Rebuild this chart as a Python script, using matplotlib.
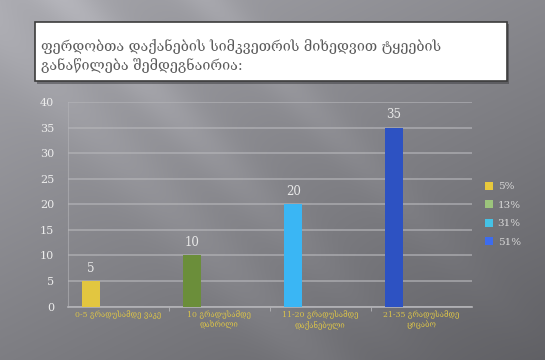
import matplotlib
matplotlib.use('Agg')
import matplotlib.pyplot as plt
from matplotlib.patches import Rectangle, Patch
import numpy as np

# ტყეების განაწილება ფერდობთა დაქანების მიხედვით
categories = ['0-5 გრადუსამდე ვაკე',
              '10 გრადუსამდე\nდახრილი',
              '11-20 გრადუსამდე\nდაქანებული',
              '21-35 გრადუსამდე\nციცაბო']
values = [5, 10, 20, 35]
shares = ['5%', '13%', '31%', '51%']
bar_colors = ['#e2c640', '#6b8e3a', '#3ab6f4', '#2d52c2']
legend_colors = ['#e8c93c', '#9cc47c', '#45c2e6', '#3d6cee']
title = 'ფერდობთა დაქანების სიმკვეთრის მიხედვით ტყეების\nგანაწილება შემდეგნაირია:'

geo = ['DejaVu Serif', 'DejaVu Sans']

fig = plt.figure(figsize=(5.45, 3.6), dpi=100)

# background: grey gradient with soft diagonal light bands
bg = fig.add_axes([0, 0, 1, 1], zorder=0)
bg.set_axis_off()
h, w = 360, 545
yy, xx = np.mgrid[0:h, 0:w]
u = xx / w
v = yy / h
base = 0.65 - 0.21 * (0.55 * u + 0.75 * v)
d = (xx - yy * 0.95) / w
band1 = 0.07 * np.exp(-((d - 0.12) / 0.06) ** 2) * np.clip(1.1 - v, 0, 1)
band2 = 0.05 * np.exp(-((d - 0.38) / 0.05) ** 2) * np.clip(1.0 - v, 0, 1)
band3 = 0.04 * np.exp(-((d + 0.05) / 0.08) ** 2)
img = np.clip(base + band1 + band2 + band3, 0, 1)
rgb = np.dstack([img, img, img * 1.02 + 0.01])
bg.imshow(np.clip(rgb, 0, 1), extent=[0, 1, 0, 1], aspect='auto',
          interpolation='bilinear')
bg.set_xlim(0, 1)
bg.set_ylim(0, 1)

# title box
fig.patches.append(Rectangle((0.068, 0.768), 0.866, 0.164, transform=fig.transFigure,
                             facecolor='#3a3a3e', edgecolor='none', alpha=0.5, zorder=1))
fig.patches.append(Rectangle((0.064, 0.775), 0.866, 0.164, transform=fig.transFigure,
                             facecolor='white', edgecolor='#3c3c3c', linewidth=1.2, zorder=2))
fig.text(0.075, 0.845, title, family=geo, fontsize=10.3, color='#5a5a5a',
         va='center', ha='left', linespacing=1.3, zorder=3)

ax = fig.add_axes([0.1248, 0.1486, 0.741, 0.568], zorder=2)
ax.patch.set_alpha(0)

x = np.arange(len(categories))
bars = ax.bar(x - 0.27, values, width=0.18, color=bar_colors, zorder=3)
for b, val in zip(bars, values):
    ax.text(b.get_x() + b.get_width() / 2, val + 1.2, str(val), ha='center',
            va='bottom', fontsize=8.5, color='#e8e8e8', family='DejaVu Serif')

ax.set_xlim(-0.5, 3.5)
ax.set_ylim(0, 40)
ax.set_yticks(np.arange(0, 41, 5))
ax.yaxis.grid(True, color='#b4b4b8', linewidth=1.2, alpha=0.75)
ax.set_axisbelow(True)
ax.tick_params(axis='y', length=0, colors='#ececec', labelsize=8, pad=10)
for lbl in ax.get_yticklabels():
    lbl.set_family('DejaVu Serif')

ax.set_xticks(x)
ax.set_xticklabels(categories, family=geo, fontsize=5.6, color='#d9c24a',
                   linespacing=1.2)
ax.set_xticks(np.arange(0.5, 3, 1), minor=True)
ax.tick_params(axis='x', which='major', length=0, pad=3)
ax.tick_params(axis='x', which='minor', length=3, color='#b4b4b8')

for s in ['top', 'right']:
    ax.spines[s].set_visible(False)
ax.spines['left'].set_color('#b4b4b8')
ax.spines['left'].set_alpha(0.6)
ax.spines['bottom'].set_color('#b4b4b8')
ax.spines['bottom'].set_linewidth(1.2)

handles = [Patch(facecolor=c, edgecolor='none') for c in legend_colors]
fig.legend(handles, shares, loc='center left', bbox_to_anchor=(0.873, 0.405),
           frameon=False, labelcolor='#d8d8d8',
           handlelength=0.8, handleheight=0.8, handletextpad=0.4,
           labelspacing=0.85, prop={'family': 'DejaVu Serif', 'size': 7.5})

fig.savefig('out.png', dpi=100)
